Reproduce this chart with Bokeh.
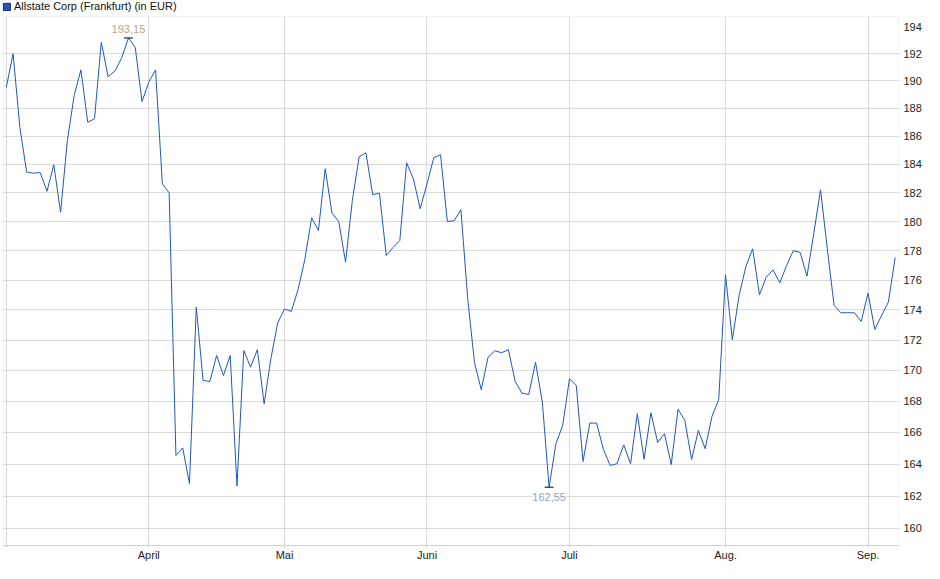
import numpy as np
from bokeh.plotting import figure
from bokeh.models import (FixedTicker, PrintfTickFormatter, Legend, LegendItem,
                          Range1d, BoxAnnotation)
from bokeh.core.properties import value
from bokeh.embed import file_html
from bokeh.resources import INLINE

title = "Allstate Corp (Frankfurt) (in EUR)"

# closing prices per trading day (Frankfurt)
prices_mar = [189.53, 191.98, 186.64, 183.45, 183.38, 183.42, 182.11, 183.97, 180.65, 185.69,
              188.93, 190.80, 187.00, 187.25, 192.83, 190.31, 190.70, 191.68, 193.15, 192.46,
              188.49]
prices_apr = [189.90, 190.80, 182.63, 182.00, 164.54, 165.02, 162.77, 174.18, 169.35, 169.28,
              170.98, 169.67, 170.98, 162.62, 171.31, 170.22, 171.36, 167.84, 170.79, 173.13]
prices_may = [174.06, 173.90, 175.37, 177.40, 180.26, 179.39, 183.69, 180.58, 180.01, 177.22,
              181.47, 184.53, 184.82, 181.88, 181.97, 177.67, 178.22, 178.70, 184.11, 182.98,
              180.89]
prices_jun = [182.63, 184.47, 184.68, 180.01, 180.06, 180.82, 174.77, 170.52, 168.75, 170.87,
              171.29, 171.16, 171.36, 169.28, 168.53, 168.44, 170.54, 167.95, 162.55, 165.28,
              166.45]
prices_jul = [169.46, 169.03, 164.16, 166.60, 166.60, 164.92, 163.91, 164.02, 165.21, 164.02,
              167.20, 164.30, 167.26, 165.37, 165.92, 163.97, 167.49, 166.77, 164.29, 166.13,
              164.97, 167.02, 168.12]
prices_aug = [176.36, 172.02, 174.97, 176.92, 178.13, 175.01, 176.20, 176.70, 175.82, 176.99,
              178.01, 177.88, 176.27, 179.16, 182.21, 178.13, 174.30, 173.81, 173.81, 173.81,
              173.23]
prices_sep = [175.12, 172.70, 173.63, 174.52, 177.52]

# index of the first trading day of each month and its label
month_ticks = [0, 21, 41, 62, 83, 106, 127]
month_labels = ["", "April", "Mai", "Juni", "Juli", "Aug.", "Sep."]
y_ticks = list(range(160, 196, 2))

prices = prices_mar + prices_apr + prices_may + prices_jun + prices_jul + prices_aug + prices_sep
idx = list(range(len(prices)))

LINE = "#1f57c3"
GRID = "#dadada"
BORDER = "#d0d0d0"
FONT = "Liberation Sans"

# plotting-area box (the frame extends above it to hold the legend line)
X_LO, X_HI = -0.34, 131.54
Y_LO, Y_TOP = 158.95, 194.75

p = figure(width=932, height=571, output_backend="svg", toolbar_location=None,
           y_axis_type="log", y_axis_location="right",
           x_range=Range1d(-0.56, 131.64), y_range=Range1d(Y_LO, 195.95),
           min_border_left=2, min_border_right=33, min_border_top=0, min_border_bottom=26,
           margin=0)
p.background_fill_color = "white"
p.border_fill_color = "white"
p.outline_line_color = None

p.line(idx, prices, line_color=LINE, line_width=1)

imax = int(np.argmax(prices))
imin = int(np.argmin(prices))
pmax = prices[imax]
pmin = prices[imin]

p.scatter([imax, imin], [pmax, pmin], marker="dash", size=9, line_color="black", line_width=1)
p.text(x=[imax], y=[pmax], text=[f"{pmax:.2f}".replace(".", ",")], text_align="center",
       text_baseline="bottom", y_offset=-5, text_font=value(FONT), text_font_size="11px",
       text_color="#b5a890", background_fill_color="white", background_fill_alpha=0.85)
p.text(x=[imin], y=[pmin], text=[f"{pmin:.2f}".replace(".", ",")], text_align="center",
       text_baseline="top", y_offset=6, text_font=value(FONT), text_font_size="11px",
       text_color="#93a3b8", background_fill_color="white", background_fill_alpha=0.85)

# blank strip above the plotting box, then the box border
p.add_layout(BoxAnnotation(bottom=Y_TOP, fill_color="white", fill_alpha=1, line_alpha=0))
p.add_layout(BoxAnnotation(left=X_LO, right=X_HI, bottom=Y_LO, top=Y_TOP,
                           fill_alpha=0, line_color=BORDER, line_width=1))

# legend square (one off-screen quad so the legend glyph is drawn)
sq = p.quad(left=[-50], right=[-49], top=[100], bottom=[99], fill_color=LINE, line_color="#15295c")
legend = Legend(items=[LegendItem(label=title, renderers=[sq], index=0)], location="top_left",
                orientation="horizontal", padding=0, margin=0, spacing=0,
                glyph_width=9, glyph_height=9, label_height=9, label_standoff=3,
                label_text_font=FONT, label_text_font_size="11px", label_text_color="#111111",
                background_fill_alpha=0, border_line_color=None)
p.add_layout(legend, "center")

# y axis (right, log)
yax = p.yaxis[0]
yax.ticker = FixedTicker(ticks=y_ticks)
yax.formatter = PrintfTickFormatter(format="%d")
yax.major_tick_out = 0
yax.major_tick_in = 0
yax.minor_tick_line_color = None
yax.axis_line_color = None
yax.major_label_standoff = 4
yax.major_label_text_font = FONT
yax.major_label_text_font_size = "11px"
yax.major_label_text_color = "#222222"

# x axis (months)
xax = p.xaxis[0]
xax.ticker = FixedTicker(ticks=month_ticks)
xax.major_label_overrides = dict(zip(month_ticks, month_labels))
xax.major_tick_out = 2
xax.major_tick_in = 0
xax.major_tick_line_color = BORDER
xax.minor_tick_line_color = None
xax.axis_line_color = BORDER
xax.major_label_standoff = 1
xax.major_label_text_font = FONT
xax.major_label_text_font_size = "11px"
xax.major_label_text_color = "#222222"

p.xgrid.ticker = FixedTicker(ticks=month_ticks)
p.ygrid.ticker = FixedTicker(ticks=[t for t in y_ticks if t < 194])
p.xgrid.grid_line_color = GRID
p.ygrid.grid_line_color = GRID

open("out.html", "w").write(file_html(p, INLINE))
